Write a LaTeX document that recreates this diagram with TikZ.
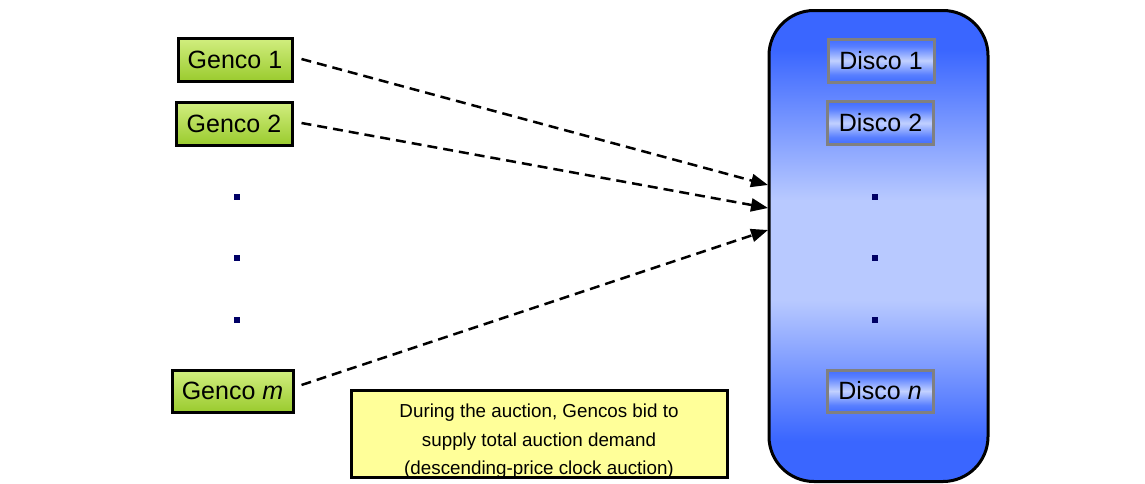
\documentclass[tikz,border=0pt]{standalone}
\usepackage{fontspec}
\setmainfont{Liberation Sans}
\usetikzlibrary{arrows.meta}
\definecolor{gencotop}{HTML}{D2EE80}
\definecolor{gencobot}{HTML}{9ACB2E}
\definecolor{bigblue}{HTML}{3A66FF}
\definecolor{biglight}{HTML}{B8C9FF}
\definecolor{discoblue}{HTML}{3F6BFF}
\definecolor{discolight}{HTML}{C2D1FF}
\definecolor{notefill}{HTML}{FFFF99}
\definecolor{dotblue}{HTML}{000066}
\definecolor{discoedge}{HTML}{808080}
\pgfdeclareverticalshading{bigshade}{230bp}{color(0bp)=(bigblue); color(42bp)=(bigblue); color(182bp)=(biglight); color(282bp)=(biglight); color(432bp)=(bigblue); color(472bp)=(bigblue)}
\pgfdeclareverticalshading{discoshade}{112bp}{color(0bp)=(discoblue); color(8bp)=(discoblue!80!discolight); color(22bp)=(discolight); color(36bp)=(discoblue!80!discolight); color(44bp)=(discoblue)}
\begin{document}
\begin{tikzpicture}[x=1pt,y=-1pt,
  shadefill/.style={path picture={
    \node[inner sep=0pt,outer sep=0pt] at (path picture bounding box.center) {\pgfuseshading{#1}};}},
  gencobox/.style={draw=black,line width=3pt,top color=gencotop,bottom color=gencobot,
    inner sep=0pt,minimum height=43pt,font=\fontsize{25}{29}\selectfont},
  discobox/.style={draw=discoedge,line width=3pt,fill=discolight,shadefill=discoshade,
    inner sep=0pt,minimum height=43pt,minimum width=106pt,font=\fontsize{25}{29}\selectfont},
  bigbox/.style={draw=black,line width=3pt,rounded corners=45pt,fill=biglight,shadefill=bigshade,
    minimum width=219pt,minimum height=471pt,inner sep=0pt},
  notebox/.style={draw=black,line width=3pt,fill=notefill,minimum width=376pt,minimum height=87pt,inner sep=0pt},
  notetext/.style={inner sep=0pt,align=center,font=\fontsize{18.8}{28.5}\selectfont},
  dotmark/.style={fill=dotblue,minimum size=6pt,inner sep=0pt},
  flow/.style={dashed,dash pattern=on 10pt off 6pt,line width=2.5pt,-{Triangle[length=17pt,width=13pt]}}
]
\useasboundingbox (0,0) rectangle (1145,483);
% big container
\node[bigbox] (big) at (878.5,246) {};
% Gencos
\node[gencobox,minimum width=114pt] (g1) at (235,59.5) {Genco 1};
\node[gencobox,minimum width=116pt] (g2) at (234,123.5) {Genco 2};
\node[gencobox,minimum width=121pt,minimum height=42pt] (gm) at (232.5,391) {Genco \textit{m}};
% Discos
\node[discobox] (d1) at (881,60.5) {Disco 1};
\node[discobox] (d2) at (880.5,123) {Disco 2};
\node[discobox,minimum height=42pt] (dn) at (880,391) {Disco \textit{n}};
% dots
\node[dotmark] (ld1) at (237,197) {};
\node[dotmark] (ld2) at (237,258) {};
\node[dotmark] (ld3) at (237,320) {};
\node[dotmark] (rd1) at (875,197) {};
\node[dotmark] (rd2) at (875,258) {};
\node[dotmark] (rd3) at (875,320) {};
% note
\node[notebox] (note) at (539,433.5) {};
\node[notetext] (notetxt) at ([yshift=-8pt]note.center) {During the auction, Gencos bid to\\supply total auction demand\\(descending-price clock auction)};
% arrow targets on container edge
\coordinate (t1) at (768,185);
\coordinate (t2) at (768,208);
\coordinate (t3) at (768,230);
\draw[flow] ([xshift=8pt,yshift=0.5pt]g1.east) -- (t1);
\draw[flow] ([xshift=8pt,yshift=0.5pt]g2.east) -- (t2);
\draw[flow] ([xshift=7pt,yshift=6pt]gm.east) -- (t3);
\end{tikzpicture}
\end{document}
